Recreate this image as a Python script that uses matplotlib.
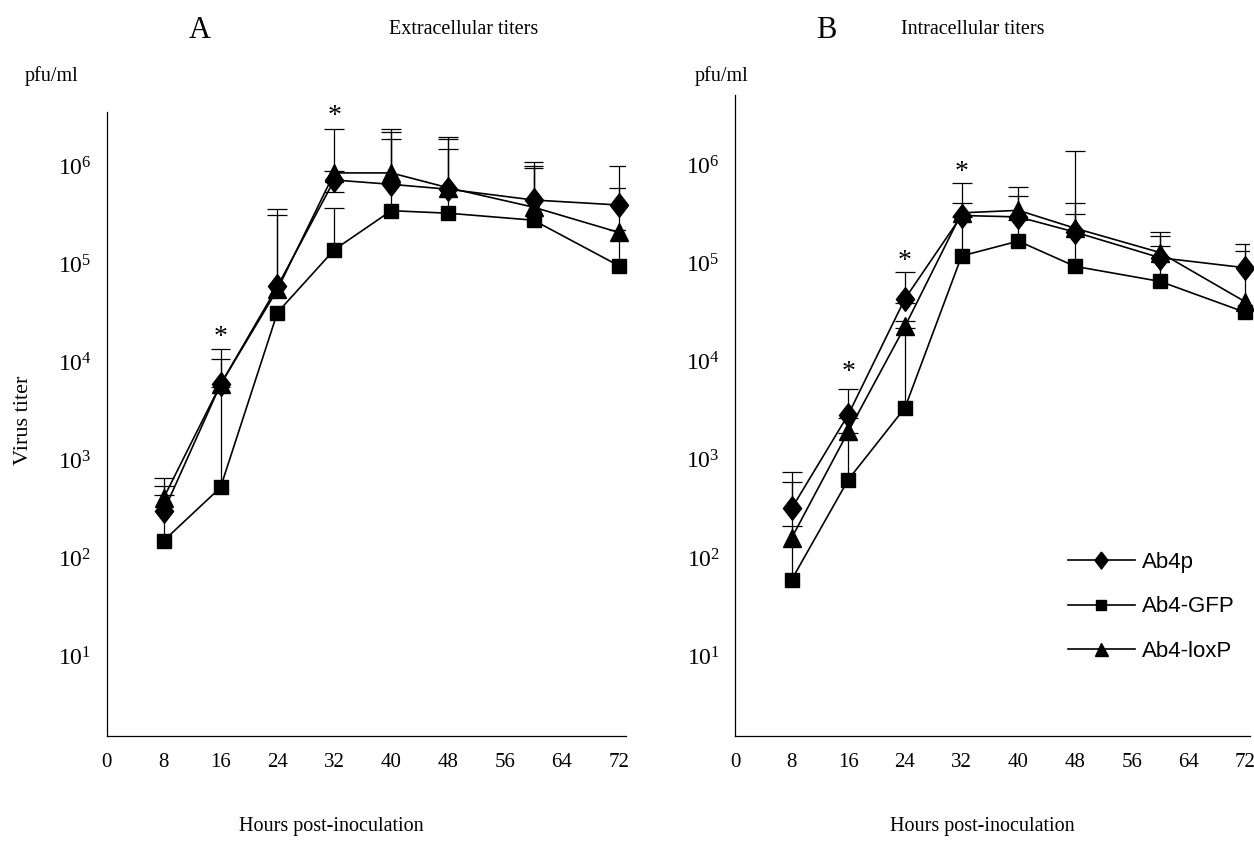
import matplotlib
matplotlib.use("Agg")
import matplotlib.pyplot as plt
from matplotlib.lines import Line2D
import numpy as np

plt.rcParams['font.family'] = ['Liberation Serif', 'DejaVu Serif']
plt.rcParams['mathtext.fontset'] = 'custom'
plt.rcParams['mathtext.rm'] = 'Liberation Serif'
plt.rcParams['mathtext.it'] = 'Liberation Serif:italic'

# ---------------- data ----------------
hours = [8, 16, 24, 32, 40, 48, 60, 72]
x_ticks = [0, 8, 16, 24, 32, 40, 48, 56, 64, 72]
y_ticks = [1e1, 1e2, 1e3, 1e4, 1e5, 1e6]
y_ticklabels = [r'$\mathregular{10^{1}}$', r'$\mathregular{10^{2}}$', r'$\mathregular{10^{3}}$',
                r'$\mathregular{10^{4}}$', r'$\mathregular{10^{5}}$', r'$\mathregular{10^{6}}$']
series_names = ['Ab4p', 'Ab4-GFP', 'Ab4-loxP']

# Panel A: extracellular titers (pfu/ml)
A_ab4p = [300, 5900, 5.9e4, 7.2e5, 6.5e5, 5.8e5, 4.5e5, 4.0e5]
A_gfp = [150, 525, 3.2e4, 1.4e5, 3.5e5, 3.3e5, 2.8e5, 9.6e4]
A_loxp = [410, 5900, 5.5e4, 8.5e5, 8.5e5, 6.0e5, 3.8e5, 2.1e5]
A_ab4p_hi = [550, 1.07e4, 3.6e5, 8.8e5, 2.2e6, 1.9e6, 1.1e6, 1.0e6]
A_gfp_hi = [440, 5.5e3, 3.2e4, 3.7e5, 1.9e6, 1.5e6, 9.6e5, 2.2e5]
A_loxp_hi = [660, 1.35e4, 3.2e5, 2.4e6, 2.4e6, 2.0e6, 1.0e6, 6.0e5]
A_ab4p_lo = [300, 5900, 5.9e4, 5.4e5, 6.5e5, 5.8e5, 4.5e5, 4.0e5]
A_star_x = [16, 32]
A_star_y = [1.8e4, 3.2e6]

# Panel B: intracellular titers (pfu/ml)
B_ab4p = [320, 2900, 4.4e4, 3.1e5, 3.0e5, 2.1e5, 1.15e5, 9.1e4]
B_gfp = [60, 630, 3.4e3, 1.2e5, 1.7e5, 9.4e4, 6.6e4, 3.2e4]
B_loxp = [160, 1950, 2.3e4, 3.3e5, 3.5e5, 2.3e5, 1.3e5, 4.1e4]
B_ab4p_hi = [760, 5300, 8.2e4, 6.7e5, 6.0e5, 4.2e5, 2.1e5, 1.6e5]
B_gfp_hi = [210, 1900, 2.2e4, 3.0e5, 2.8e5, 3.2e5, 1.5e5, 3.2e4]
B_loxp_hi = [600, 2700, 2.6e4, 4.2e5, 4.9e5, 1.4e6, 1.9e5, 1.35e5]
B_ab4p_lo = [320, 2900, 4.0e4, 3.1e5, 3.0e5, 2.1e5, 1.15e5, 9.1e4]
B_star_x = [16, 24, 32]
B_star_y = [7.8e3, 1.05e5, 8.5e5]

# ---------------- style ----------------
W, H = 1254, 849
fig = plt.figure(figsize=(W / 100, H / 100), dpi=100)

def fx(px):
    return px / W

def fy(py):
    return 1 - py / H

diamond = [(0, 1.3), (1, 0), (0, -1.3), (-1, 0), (0, 1.3)]
styles = {
    'Ab4p': dict(marker=diamond, ms=17),
    'Ab4-GFP': dict(marker='s', ms=10.5),
    'Ab4-loxP': dict(marker='^', ms=13),
}

def make_axes(left_px, right_px, top_px, bottom_px, xmax, ytop):
    ax = fig.add_axes([fx(left_px), fy(bottom_px), fx(right_px - left_px), (bottom_px - top_px) / H])
    ax.set_yscale('log')
    ax.set_xlim(0, xmax)
    ax.set_ylim(1.53, ytop)
    for s in ['top', 'right']:
        ax.spines[s].set_visible(False)
    for s in ['left', 'bottom']:
        ax.spines[s].set_linewidth(0.9)
        ax.spines[s].set_color('black')
    ax.set_xticks(x_ticks)
    ax.set_xticklabels([str(t) for t in x_ticks], fontsize=15)
    ax.set_yticks(y_ticks)
    ax.set_yticklabels(y_ticklabels, fontsize=17)
    ax.yaxis.set_minor_locator(matplotlib.ticker.NullLocator())
    ax.tick_params(axis='x', length=0, pad=12)
    ax.tick_params(axis='y', length=0, pad=11)
    return ax

def draw_panel(ax, series, his, lo, stars_x, stars_y):
    cap_half = 1.4
    for vals, hi in zip(series, his):
        for x, v, h in zip(hours, vals, hi):
            if h > v:
                ax.vlines(x, v, h, color='black', lw=0.9, zorder=1)
                ax.hlines(h, x - cap_half, x + cap_half, color='black', lw=0.9, zorder=1)
    for x, v, l in zip(hours, series[0], lo):
        if l < v:
            ax.vlines(x, l, v, color='black', lw=0.9, zorder=1)
            ax.hlines(l, x - cap_half, x + cap_half, color='black', lw=0.9, zorder=1)
    for name, vals in zip(series_names, series):
        ax.plot(hours, vals, color='black', lw=1.2, mfc='black', mec='black',
                zorder=3, clip_on=False, **styles[name])
    for x, y in zip(stars_x, stars_y):
        ax.text(x, y, '*', ha='center', va='center', fontsize=20, zorder=4)

axA = make_axes(106.7, 626, 112, 736, 73.0, 10 ** 6.551)
draw_panel(axA, [A_ab4p, A_gfp, A_loxp], [A_ab4p_hi, A_gfp_hi, A_loxp_hi], A_ab4p_lo, A_star_x, A_star_y)

axB = make_axes(735, 1250, 95, 736, 72.7, 10 ** 6.72)
draw_panel(axB, [B_ab4p, B_gfp, B_loxp], [B_ab4p_hi, B_gfp_hi, B_loxp_hi], B_ab4p_lo, B_star_x, B_star_y)

# legend
handles = [Line2D([], [], color='black', lw=1.2, mfc='black', mec='black', **styles[n]) for n in series_names]
leg = axB.legend(handles, series_names, loc='upper left',
                 bbox_to_anchor=(fx(1068), fy(552)), bbox_transform=fig.transFigure,
                 frameon=False, handlelength=3.0, handletextpad=0.35, labelspacing=1.05,
                 borderpad=0, borderaxespad=0, markerscale=0.72,
                 prop={'family': ['Liberation Sans Narrow', 'Liberation Sans', 'DejaVu Sans'], 'size': 16})

# texts
fig.text(fx(200), fy(30), 'A', fontsize=22, ha='center', va='center')
fig.text(fx(464), fy(30), 'Extracellular titers', fontsize=14.5, ha='center', va='center')
fig.text(fx(826), fy(30), 'B', fontsize=22, ha='center', va='center')
fig.text(fx(973), fy(30), 'Intracellular titers', fontsize=14.5, ha='center', va='center')
fig.text(fx(52), fy(76), 'pfu/ml', fontsize=14.5, ha='center', va='center')
fig.text(fx(722), fy(76), 'pfu/ml', fontsize=14.5, ha='center', va='center')
fig.text(fx(24), fy(420), 'Virus titer', fontsize=16, ha='center', va='center', rotation=90)
fig.text(fx(331), fy(826), 'Hours post-inoculation', fontsize=14.5, ha='center', va='center')
fig.text(fx(982), fy(826), 'Hours post-inoculation', fontsize=14.5, ha='center', va='center')

fig.savefig('out.png', dpi=100)
